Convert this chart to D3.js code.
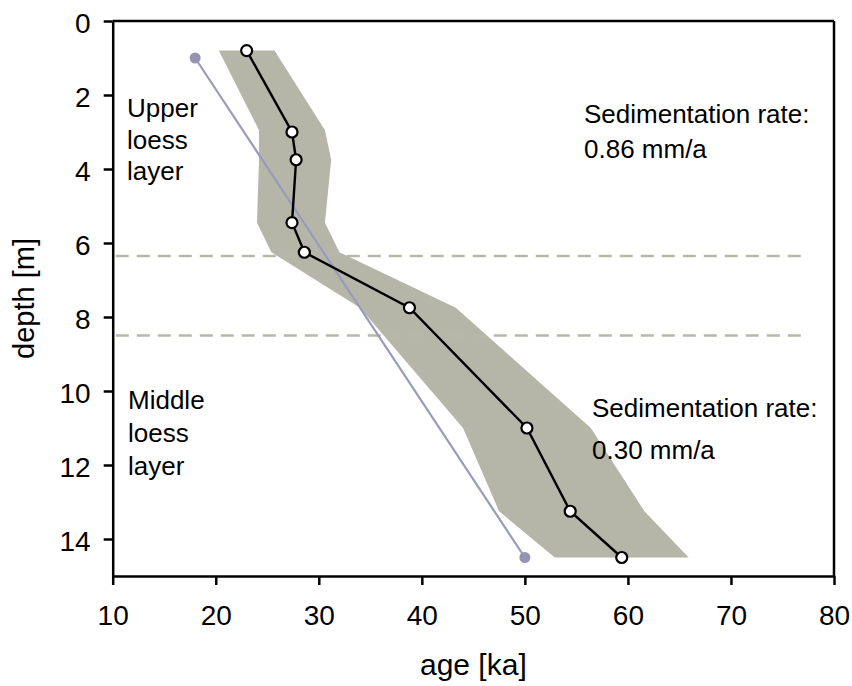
<!DOCTYPE html>
<html>
<head>
<meta charset="utf-8">
<script src="https://cdn.jsdelivr.net/npm/d3@7"></script>
<style>
  body { margin: 0; background: #fff; }
  svg text { font-family: "Liberation Sans", Arial, Helvetica, sans-serif; fill: #000; }
</style>
</head>
<body>
<svg id="chart" width="852" height="686"></svg>
<script>
// Luminescence ages of the loess profile
const sampleAge   = [23.0, 27.4, 27.8, 27.4, 28.6, 38.8, 50.2, 54.4, 59.4];
const sampleDepth = [0.8, 3.0, 3.75, 5.45, 6.25, 7.75, 11.0, 13.25, 14.5];

// Uncertainty envelope (younger and older bound at each depth)
const bandDepth = [0.8, 2.95, 3.75, 5.45, 6.25, 7.75, 11.0, 13.25, 14.5];
const bandMin   = [20.3, 24.2, 24.2, 24.0, 25.4, 34.0, 44.0, 47.5, 52.9];
const bandMax   = [25.7, 30.6, 31.2, 30.6, 32.0, 43.3, 56.4, 61.6, 65.9];

// Linear age-depth model
const modelAge   = [18, 50];
const modelDepth = [1.0, 14.5];

// Layer boundaries
const boundaryDepth = [6.35, 8.5];

const xTicks = [10, 20, 30, 40, 50, 60, 70, 80];
const yTicks = [0, 2, 4, 6, 8, 10, 12, 14];

const svg = d3.select("#chart");
const plotL = 112.7, plotR = 834, plotT = 21, plotB = 576;

const x = d3.scaleLinear().domain([10, 80]).range([plotL, plotR]);
const y = d3.scaleLinear().domain([0, 15]).range([plotT, plotB]);

// envelope polygon
const bandPts = bandDepth.map((d, i) => [bandMax[i], d])
  .concat(bandDepth.map((d, i) => [bandMin[i], d]).reverse());
svg.append("path")
  .attr("d", d3.line().x(d => x(d[0])).y(d => y(d[1]))(bandPts) + "Z")
  .attr("fill", "#b5b5a8");

// layer boundary lines
svg.selectAll(".boundary").data(boundaryDepth).enter().append("line")
  .attr("class", "boundary")
  .attr("x1", x(10.3)).attr("x2", x(77.3))
  .attr("y1", d => y(d)).attr("y2", d => y(d))
  .attr("stroke", "#b8b8aa").attr("stroke-width", 2.5)
  .attr("stroke-dasharray", "13,8");

// linear model
const model = modelAge.map((a, i) => [a, modelDepth[i]]);
svg.append("path")
  .attr("d", d3.line().x(d => x(d[0])).y(d => y(d[1]))(model))
  .attr("fill", "none").attr("stroke", "#9a9abd").attr("stroke-width", 2.2);
svg.selectAll(".mdot").data(model).enter().append("circle")
  .attr("class", "mdot")
  .attr("cx", d => x(d[0])).attr("cy", d => y(d[1])).attr("r", 5.5)
  .attr("fill", "#9494b2");

// ages
const samples = sampleAge.map((a, i) => [a, sampleDepth[i]]);
svg.append("path")
  .attr("d", d3.line().x(d => x(d[0])).y(d => y(d[1]))(samples))
  .attr("fill", "none").attr("stroke", "#000").attr("stroke-width", 2.4);
svg.selectAll(".sdot").data(samples).enter().append("circle")
  .attr("class", "sdot")
  .attr("cx", d => x(d[0])).attr("cy", d => y(d[1])).attr("r", 5.5)
  .attr("fill", "#fff").attr("stroke", "#000").attr("stroke-width", 2.2);

// frame
svg.append("line").attr("x1", plotL).attr("x2", plotR).attr("y1", plotT).attr("y2", plotT)
  .attr("stroke", "#000").attr("stroke-width", 2.5);
svg.append("line").attr("x1", plotR).attr("x2", plotR).attr("y1", plotT).attr("y2", plotB)
  .attr("stroke", "#000").attr("stroke-width", 2.5);

// axes
const xAxis = svg.append("g").attr("transform", `translate(0,${plotB})`)
  .call(d3.axisBottom(x).tickValues(xTicks).tickSize(9).tickPadding(20).tickSizeOuter(0));
const yAxis = svg.append("g").attr("transform", `translate(${plotL},0)`)
  .call(d3.axisLeft(y).tickValues(yTicks).tickSize(9).tickPadding(13).tickSizeOuter(0));
[xAxis, yAxis].forEach(g => {
  g.select(".domain").attr("stroke", "#000").attr("stroke-width", 2.5);
  g.selectAll(".tick line").attr("stroke", "#000").attr("stroke-width", 2.5);
  g.selectAll(".tick text").attr("font-size", 28).attr("fill", "#000")
    .style("font-family", "'Liberation Sans', Arial, sans-serif");
});
yAxis.selectAll(".tick text").attr("dy", "0.42em");

// axis titles
svg.append("text").attr("x", (plotL + plotR) / 2).attr("y", 675)
  .attr("text-anchor", "middle").attr("font-size", 30).text("age [ka]");
svg.append("text")
  .attr("transform", `translate(34,${(plotT + plotB) / 2}) rotate(-90)`)
  .attr("text-anchor", "middle").attr("font-size", 29).text("depth [m]");

// annotations
const notes = [
  { x: 127, y: 117, t: "Upper" }, { x: 127, y: 149, t: "loess" }, { x: 127, y: 180, t: "layer" },
  { x: 128, y: 409, t: "Middle" }, { x: 128, y: 442, t: "loess" }, { x: 128, y: 475, t: "layer" },
  { x: 584, y: 123, t: "Sedimentation rate:" }, { x: 584, y: 158, t: "0.86 mm/a" },
  { x: 592, y: 417, t: "Sedimentation rate:" }, { x: 592, y: 459, t: "0.30 mm/a" }
];
svg.selectAll(".note").data(notes).enter().append("text")
  .attr("class", "note")
  .attr("x", d => d.x).attr("y", d => d.y)
  .attr("font-size", 26).text(d => d.t);
</script>
</body>
</html>
